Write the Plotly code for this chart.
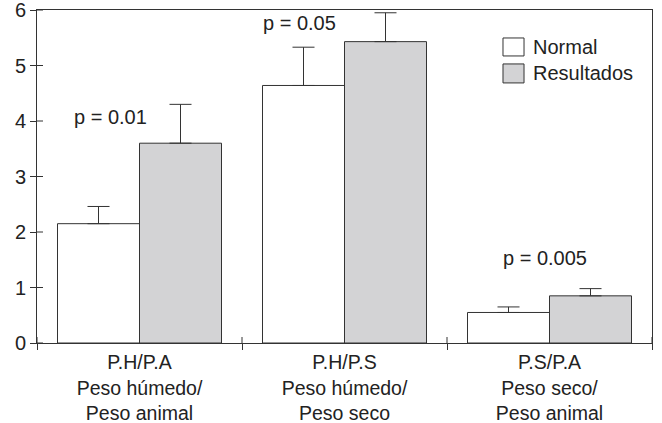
import plotly.graph_objects as go

categories = ["P.H/P.A<br>Peso húmedo/<br>Peso animal",
              "P.H/P.S<br>Peso húmedo/<br>Peso seco",
              "P.S/P.A<br>Peso seco/<br>Peso animal"]
normal_vals = [2.15, 4.64, 0.55]
normal_err = [0.31, 0.69, 0.10]
result_vals = [3.60, 5.43, 0.85]
result_err = [0.70, 0.52, 0.13]
p_labels = ["p = 0.01", "p = 0.05", "p = 0.005"]
p_x = [-0.14, 0.78, 1.98]
p_y = [4.08, 5.76, 1.54]
y_ticks = [0, 1, 2, 3, 4, 5, 6]
x_bounds = [-0.5, 0.5, 1.5, 2.5]

LINE = "#333333"
TXT = "#222222"
FONT = "Liberation Sans, Arial, sans-serif"
PW, PH = 615, 333

fig = go.Figure()
fig.add_trace(go.Bar(
    x=categories, y=normal_vals, name="Normal",
    marker=dict(color="white", line=dict(color=LINE, width=1)),
    error_y=dict(type="data", array=normal_err, arrayminus=[0, 0, 0], symmetric=False,
                 color=LINE, thickness=1, width=11),
    showlegend=False))
fig.add_trace(go.Bar(
    x=categories, y=result_vals, name="Resultados",
    marker=dict(color="#d3d3d5", line=dict(color=LINE, width=1)),
    error_y=dict(type="data", array=result_err, arrayminus=[0, 0, 0], symmetric=False,
                 color=LINE, thickness=1, width=11),
    showlegend=False))

for t, x, y in zip(p_labels, p_x, p_y):
    fig.add_annotation(x=x, y=y, xref="x", yref="y", text=t, showarrow=False,
                       font=dict(size=20, color=TXT, family=FONT))

# inner halves of the crossing tick marks
for v in y_ticks:
    fig.add_shape(type="line", xref="paper", yref="y", x0=0, x1=6 / PW, y0=v, y1=v,
                  line=dict(color=LINE, width=1))
for b in x_bounds:
    fig.add_shape(type="line", xref="x", yref="paper", x0=b, x1=b, y0=0, y1=6 / PH,
                  line=dict(color=LINE, width=1))

# legend drawn as boxes + text
leg = [("Normal", "white", 0.916, 0.862, 0.889),
       ("Resultados", "#d3d3d5", 0.838, 0.781, 0.810)]
for name, col, y0, y1, yt in leg:
    fig.add_shape(type="rect", xref="paper", yref="paper",
                  x0=0.7577, x1=0.7919, y0=y1, y1=y0,
                  fillcolor=col, line=dict(color=LINE, width=1))
    fig.add_annotation(x=0.804, y=yt, xref="paper", yref="paper", text=name,
                       xanchor="left", yanchor="middle", showarrow=False,
                       font=dict(size=20, color=TXT, family=FONT))

fig.update_layout(
    width=662, height=423,
    margin=dict(l=37, r=10, t=10, b=80, autoexpand=False),
    paper_bgcolor="white", plot_bgcolor="white",
    barmode="group", bargap=0.2, bargroupgap=0,
    font=dict(family=FONT, size=19, color=TXT),
    xaxis=dict(type="category", tickson="boundaries", ticks="outside", ticklen=6,
               tickcolor=LINE, tickwidth=1, showline=True, linecolor=LINE, linewidth=1,
               mirror=True, showgrid=False, zeroline=False, range=[-0.5, 2.5],
               ticklabelstandoff=2,
               tickfont=dict(size=19.5, color=TXT, family=FONT)),
    yaxis=dict(range=[0, 6], tickvals=y_ticks, ticks="outside", ticklen=6,
               tickcolor=LINE, tickwidth=1, showline=True, linecolor=LINE, linewidth=1,
               mirror=True, showgrid=False, zeroline=False,
               ticklabeloverflow="allow",
               tickfont=dict(size=20, color=TXT, family=FONT)),
)

fig.write_html("out.html", config={"displayModeBar": False},
               post_script="document.body.style.margin='0';document.body.style.overflow='hidden';")
